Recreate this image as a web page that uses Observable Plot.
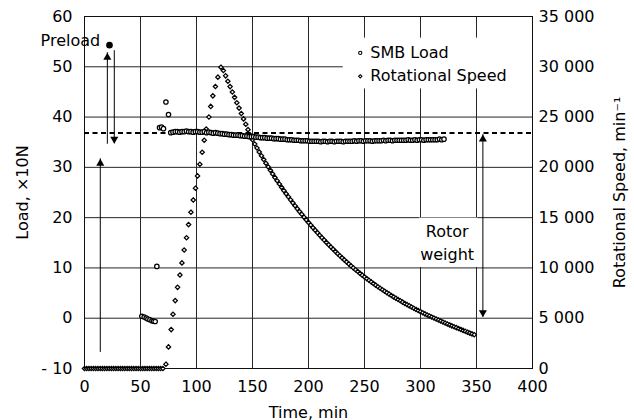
<!DOCTYPE html>
<html>
<head>
<meta charset="utf-8">
<script src="https://cdn.jsdelivr.net/npm/d3@7"></script>
<script src="https://cdn.jsdelivr.net/npm/@observablehq/plot@0.6"></script>
<style>
  html, body { margin: 0; padding: 0; background: #fff; }
</style>
</head>
<body>
<div id="chart"></div>
<script>
// ---------- tick values / labels ----------
const timeTicks = [0, 50, 100, 150, 200, 250, 300, 350, 400];
const loadTicks = [-10, 0, 10, 20, 30, 40, 50, 60];
const legendLabels = ["SMB Load", "Rotational Speed"];

// ---------- Rotational speed (min^-1), diamonds, right axis ----------
const speedTime = [
  0,2,4,6,8,10,12,14,16,18,
  20,22,24,26,28,30,32,34,36,38,
  40,42,44,46,48,50,52,54,56,58,
  60,62,64,66,68,70,
  72.7,75.0,77.4,79.0,81.0,83.1,85.2,87.0,89.0,91.1,
  92.9,95.0,97.1,99.1,100.9,103.0,105.1,106.9,108.7,111.1,
  112.7,114.6,116.9,119.1,121.8,
  124,126,128,130,132,134,136,138,140,142,
  144,146,148,150,152,154,156,158,160,162,
  164,166,168,170,172,174,176,178,180,182,
  184,186,188,190,192,194,196,198,200,202,
  204,206,208,210,212,214,216,218,220,222,
  224,226,228,230,232,234,236,238,240,242,
  244,246,248,250,252,254,256,258,260,262,
  264,266,268,270,272,274,276,278,280,282,
  284,286,288,290,292,294,296,298,300,302,
  304,306,308,310,312,314,316,318,320,322,
  324,326,328,330,332,334,336,338,340,342,
  344,346,348
];
const speedValue = [
  0,0,0,0,0,0,0,0,0,0,
  0,0,0,0,0,0,0,0,0,0,
  0,0,0,0,0,0,0,0,0,0,
  0,0,0,0,0,0,
  430,2150,3870,5390,6750,8070,9300,10500,11780,13000,
  14310,15540,16760,17930,19150,20310,21500,22690,23810,25000,
  26060,27110,28040,28970,29960,
  29630,29100,28560,28030,27490,26960,26420,25890,25350,24820,
  24280,23750,23210,22750,22320,21920,21530,21150,20780,20410,
  20050,19700,19350,19000,18670,18340,18010,17690,17380,17070,
  16770,16470,16180,15890,15600,15330,15050,14780,14520,14260,
  14000,13750,13500,13250,13010,12770,12540,12310,12080,11860,
  11640,11420,11210,11000,10800,10600,10400,10200,10010,9820,
  9640,9460,9280,9110,8940,8770,8610,8450,8290,8130,
  7980,7830,7680,7540,7400,7260,7120,6990,6860,6730,
  6600,6470,6350,6230,6110,5990,5870,5760,5650,5540,
  5430,5320,5220,5120,5020,4920,4820,4720,4620,4520,
  4420,4330,4240,4150,4060,3970,3880,3790,3700,3610,
  3520,3440,3360
];

// ---------- SMB load (x10 N), circles, left axis ----------
const loadTime = [
  51.2,53.3,55.1,56.6,58.4,60.2,61.6,63.1,64.6,67.0,
  68.8,70.5,72.7,75.0,
  77,79,81,83,85,87,89,91,93,95,
  97,99,101,103,105,107,109,111,113,115,
  117,119,121,123,125,127,129,131,133,135,
  137,139,141,143,145,147,149,151,153,155,
  157,159,161,163,165,167,169,171,173,175,
  177,179,181,183,185,187,189,191,193,195,
  197,199,201,203,205,207,209,211,213,215,
  217,219,221,223,225,227,229,231,233,235,
  237,239,241,243,245,247,249,251,253,255,
  257,259,261,263,265,267,269,271,273,275,
  277,279,281,283,285,287,289,291,293,295,
  297,299,301,303,305,307,309,311,313,315,
  317,319,321
];
const loadValue = [
  0.4,0.25,0.05,-0.15,-0.3,-0.5,-0.6,-0.65,10.3,37.9,
  38.0,37.7,43.0,40.5,
  36.9,37.0,37.1,37.1,37.0,37.1,37.1,37.2,37.1,37.1,
  37.0,37.1,37.1,37.0,37.0,37.1,36.9,37.0,36.9,36.8,
  36.9,36.8,36.7,36.7,36.6,36.6,36.5,36.5,36.4,36.4,
  36.4,36.3,36.3,36.2,36.2,36.1,36.1,36.1,36.0,36.0,
  35.9,35.9,35.9,35.8,35.8,35.8,35.7,35.7,35.7,35.6,
  35.6,35.6,35.5,35.5,35.5,35.4,35.4,35.4,35.3,35.3,
  35.3,35.3,35.2,35.2,35.2,35.2,35.2,35.1,35.2,35.2,
  35.1,35.2,35.2,35.1,35.2,35.2,35.2,35.1,35.2,35.2,
  35.2,35.2,35.3,35.2,35.3,35.3,35.2,35.3,35.3,35.3,
  35.2,35.3,35.3,35.3,35.3,35.4,35.3,35.4,35.4,35.3,
  35.4,35.4,35.4,35.4,35.4,35.4,35.5,35.4,35.4,35.5,
  35.4,35.5,35.5,35.4,35.5,35.5,35.5,35.5,35.5,35.5,
  35.6,35.5,35.6
];

// ---------- annotations (time, load units) ----------
const preloadPoint = [{t: 22.3, v: 54.3}];
const preloadLevel = [36.85];
const arrowShafts = [
  {t: 14.1, from: -6.8, to: 31.7},
  {t: 20.4, from: 34.6, to: 52.8},
  {t: 26.6, from: 53.2, to: 34.7},
  {t: 355.7, from: 0.2, to: 36.5}
];
const upHeads = [{t: 14.1, v: 31.7}, {t: 20.4, v: 52.8}, {t: 355.7, v: 36.5}];
const downHeads = [{t: 26.6, v: 34.7}, {t: 355.7, v: 0.2}];
const legendBox = [{x1: 231, x2: 400, y1: 45.6, y2: 55.7}];
const rotorBox = [{x1: 299, x2: 351.5, y1: 10.1, y2: 19.9}];
const legendRows = [
  {t: 246.2, v: 52.76, text: legendLabels[0]},
  {t: 246.2, v: 48.1, text: legendLabels[1]}
];

if (speedTime.length !== speedValue.length || loadTime.length !== loadValue.length) {
  throw new Error("length mismatch " + speedTime.length + "/" + speedValue.length + " " + loadTime.length + "/" + loadValue.length);
}

const speedRows = speedTime.map((t, i) => ({t, v: speedValue[i]}));
const loadRows = loadTime.map((t, i) => ({t, v: loadValue[i]}));
const speedToLoadUnits = s => s / 500 - 10;   // right axis: 0 min^-1 at -10, 35 000 at 60
const fmtSpeed = d3.formatLocale({decimal: ".", thousands: " ", grouping: [3], currency: ["", ""]}).format(",");
const fmtLoad = d => d < 0 ? "- " + Math.abs(d) : String(d);

const gridColor = "#262626";

const chart = Plot.plot({
  width: 634,
  height: 420,
  marginLeft: 84,
  marginRight: 102,
  marginTop: 16,
  marginBottom: 52,
  style: {fontFamily: "'DejaVu Sans', sans-serif", fontSize: "16px", background: "white", color: "black"},
  x: {domain: [0, 400]},
  y: {domain: [-10, 60]},
  marks: [
    Plot.gridX(timeTicks, {stroke: gridColor, strokeOpacity: 1, strokeWidth: 1}),
    Plot.gridY(loadTicks, {stroke: gridColor, strokeOpacity: 1, strokeWidth: 1}),
    Plot.rect(legendBox, {x1: "x1", x2: "x2", y1: "y1", y2: "y2", fill: "white"}),
    Plot.rect(rotorBox, {x1: "x1", x2: "x2", y1: "y1", y2: "y2", fill: "white"}),
    Plot.frame({stroke: "#111", strokeWidth: 1}),
    Plot.ruleY(preloadLevel, {stroke: "black", strokeWidth: 2, strokeDasharray: "5,3.5"}),
    Plot.ruleX(arrowShafts, {x: "t", y1: "from", y2: "to", stroke: "black", strokeWidth: 1}),
    Plot.dot(upHeads, {x: "t", y: "v", symbol: "triangle", r: 3, fill: "black", stroke: "none", dy: 4.6}),
    Plot.dot(downHeads, {x: "t", y: "v", symbol: "triangle", r: 3, fill: "black", stroke: "none", rotate: 180, dy: -4.6}),
    Plot.dot(speedRows, {x: "t", y: d => speedToLoadUnits(d.v), symbol: d3.symbolDiamond2, r: 1.95, fill: "white", stroke: "black", strokeWidth: 1.25}),
    Plot.dot(loadRows, {x: "t", y: "v", symbol: "circle", r: 2.2, fill: "white", stroke: "black", strokeWidth: 1.25}),
    Plot.dot(preloadPoint, {x: "t", y: "v", r: 3.3, fill: "black", stroke: "none"}),
    Plot.text(["Preload"], {x: 14.0, y: 55.2, textAnchor: "end", fill: "black"}),
    Plot.text(["Rotor\nweight"], {x: 323.8, y: 15.4, textAnchor: "middle", lineHeight: 1.46, fill: "black"}),
    Plot.dot(legendRows.slice(0, 1), {x: "t", y: "v", symbol: "circle", r: 1.6, fill: "white", stroke: "black", strokeWidth: 1.1}),
    Plot.dot(legendRows.slice(1, 2), {x: "t", y: "v", symbol: d3.symbolDiamond2, r: 1.5, fill: "white", stroke: "black", strokeWidth: 1.1}),
    Plot.text(legendRows, {x: "t", y: "v", text: "text", textAnchor: "start", dx: 10, fill: "black"}),
    Plot.axisX({ticks: timeTicks, tickSize: 0, tickPadding: 12, tickFormat: d => String(d),
      label: "Time, min", labelAnchor: "center", labelOffset: 49, labelArrow: "none"}),
    Plot.axisY({anchor: "left", ticks: loadTicks, tickSize: 0, tickPadding: 12, tickFormat: fmtLoad,
      label: "Load, \u00d710N", labelAnchor: "center", labelOffset: 68, labelArrow: "none"}),
    Plot.axisY({anchor: "right", ticks: loadTicks, tickSize: 0, tickPadding: 6, tickFormat: d => fmtSpeed((d + 10) * 500),
      label: "Rotational Speed, min\u207b\u00b9", labelAnchor: "center", labelOffset: 92, labelArrow: "none"})
  ]
});
document.getElementById("chart").appendChild(chart);
</script>
</body>
</html>
